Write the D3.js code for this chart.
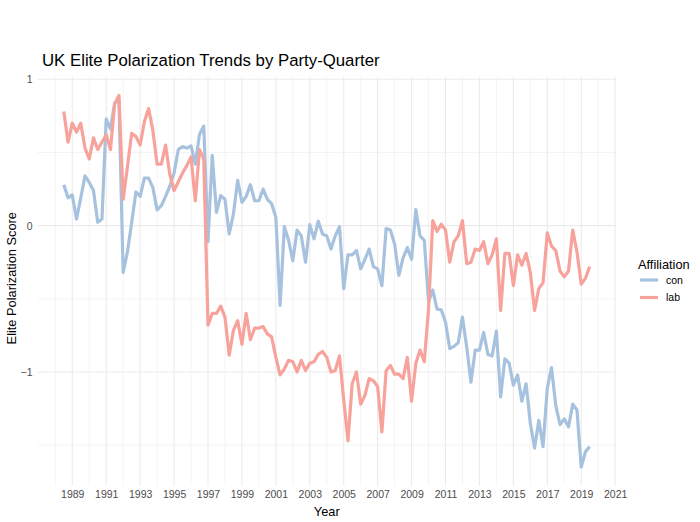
<!DOCTYPE html>
<html>
<head>
<meta charset="utf-8">
<script src="https://cdn.jsdelivr.net/npm/d3@7"></script>
<style>
  body { margin: 0; background: #fff; }
  svg { display: block; font-family: "Liberation Sans", Arial, Helvetica, sans-serif; }
</style>
</head>
<body>
<svg id="chart" width="700" height="522"></svg>
<script>
// quarterly scores, first quarter is 1988 Q3
const firstQuarter = 1988.5

const con = [
  0.28, 0.19,
  0.21, 0.045, 0.19, 0.34,
  0.295, 0.24, 0.023, 0.045,
  0.73, 0.66, 0.84, 0.86,
  -0.32, -0.18, 0.02, 0.23,
  0.20, 0.325, 0.325, 0.26,
  0.107, 0.136, 0.20, 0.27,
  0.36, 0.52, 0.54, 0.53,
  0.545, 0.42, 0.625, 0.68,
  -0.11, 0.48, 0.09, 0.205,
  0.18, -0.057, 0.08, 0.31,
  0.16, 0.20, 0.28, 0.17,
  0.17, 0.25, 0.18, 0.15,
  0.057, -0.545, -0.007, -0.10,
  -0.24, -0.03, -0.07, -0.25,
  0.007, -0.09, 0.03, -0.057,
  -0.07, -0.16, -0.07, -0.007,
  -0.43, -0.20, -0.20, -0.17,
  -0.295, -0.23, -0.16, -0.28,
  -0.295, -0.41, -0.02, -0.03,
  -0.125, -0.34, -0.22, -0.15,
  -0.23, 0.11, -0.07, -0.10,
  -0.52, -0.44, -0.57, -0.575,
  -0.66, -0.84, -0.825, -0.80,
  -0.625, -0.83, -1.07, -0.85,
  -0.85, -0.73, -0.88, -0.89,
  -0.72, -1.17, -0.91, -0.94,
  -1.09, -1.02, -1.20, -1.08,
  -1.35, -1.52, -1.33, -1.51,
  -1.11, -0.97, -1.23, -1.36,
  -1.32, -1.375, -1.22, -1.26,
  -1.65, -1.545, -1.51
]

const lab = [
  0.78, 0.57,
  0.70, 0.64, 0.70, 0.53,
  0.455, 0.60, 0.52, 0.57,
  0.62, 0.52, 0.83, 0.89,
  0.18, 0.40, 0.63, 0.61,
  0.55, 0.71, 0.80, 0.65,
  0.42, 0.42, 0.55, 0.35,
  0.24, 0.30, 0.36, 0.41,
  0.47, 0.17, 0.52, 0.455,
  -0.68, -0.60, -0.60, -0.55,
  -0.625, -0.885, -0.715, -0.65,
  -0.81, -0.60, -0.78, -0.70,
  -0.70, -0.69, -0.74, -0.76,
  -0.90, -1.02, -0.98, -0.92,
  -0.93, -1.00, -0.92, -0.99,
  -0.94, -0.93, -0.88, -0.86,
  -0.90, -1.00, -0.99, -0.89,
  -1.19, -1.47, -1.08, -1.00,
  -1.22, -1.16, -1.045, -1.06,
  -1.10, -1.41, -0.99, -0.955,
  -1.015, -1.015, -1.045, -0.90,
  -1.20, -0.94, -0.85, -0.93,
  -0.57, 0.034, -0.04, 0.01,
  -0.03, -0.25, -0.11, -0.07,
  0.034, -0.26, -0.25, -0.16,
  -0.17, -0.11, -0.26, -0.20,
  -0.09, -0.58, -0.19, -0.19,
  -0.41, -0.20, -0.27, -0.19,
  -0.32, -0.58, -0.43, -0.39,
  -0.05, -0.14, -0.17, -0.31,
  -0.35, -0.31, -0.03, -0.18,
  -0.40, -0.36, -0.28
]

const parties = ["con", "lab"]
const partyColors = ["#a7c2de", "#f8a29c"]

const xMajor = [1989, 1991, 1993, 1995, 1997, 1999, 2001, 2003, 2005, 2007, 2009, 2011, 2013, 2015, 2017, 2019, 2021]
const xMinor = [1988, 1990, 1992, 1994, 1996, 1998, 2000, 2002, 2004, 2006, 2008, 2010, 2012, 2014, 2016, 2018, 2020]
const yMajor = [-1, 0, 1]
const yMinor = [-1.5, -0.5, 0.5]

// panel box
const panel = { left: 37.5, right: 616, top: 76.8, bottom: 485.7 }

const series = parties.map((p, k) => ({
  party: p,
  color: partyColors[k],
  values: (k == 0 ? con : lab).map((v, i) => ({ t: firstQuarter + i / 4, v: v }))
}))

// ggplot-like 5% expansion on both scales
let allT = series[0].values.map(d => d.t)
let allV = con.concat(lab)
let tExt = d3.extent(allT), vExt = d3.extent(allV)
let tPad = (tExt[1] - tExt[0]) * 0.05, vPad = (vExt[1] - vExt[0]) * 0.05

const x = d3.scaleLinear()
  .domain([tExt[0] - tPad, tExt[1] + tPad])
  .range([panel.left, panel.right])
const y = d3.scaleLinear()
  .domain([vExt[0] - vPad, vExt[1] + vPad])
  .range([panel.bottom, panel.top])

const svg = d3.select("#chart")

// grid
let grid = svg.append("g")
grid.selectAll(".vminor").data(xMinor).join("line")
  .attr("x1", d => x(d)).attr("x2", d => x(d))
  .attr("y1", panel.top).attr("y2", panel.bottom)
  .attr("stroke", "#ededed").attr("stroke-width", 0.6)
grid.selectAll(".hminor").data(yMinor).join("line")
  .attr("y1", d => y(d)).attr("y2", d => y(d))
  .attr("x1", panel.left).attr("x2", panel.right)
  .attr("stroke", "#ededed").attr("stroke-width", 0.6)
grid.selectAll(".vmajor").data(xMajor).join("line")
  .attr("x1", d => x(d)).attr("x2", d => x(d))
  .attr("y1", panel.top).attr("y2", panel.bottom)
  .attr("stroke", "#ebebeb").attr("stroke-width", 1.1)
grid.selectAll(".hmajor").data(yMajor).join("line")
  .attr("y1", d => y(d)).attr("y2", d => y(d))
  .attr("x1", panel.left).attr("x2", panel.right)
  .attr("stroke", "#ebebeb").attr("stroke-width", 1.1)

// axes (text only, like theme_minimal)
let xaxis = d3.axisBottom(x).tickValues(xMajor).tickFormat(d3.format("d")).tickSize(0).tickPadding(4)
svg.append("g")
  .attr("transform", `translate(0,${panel.bottom + 1})`)
  .call(xaxis)
  .call(g => g.select(".domain").remove())
  .selectAll("text").attr("fill", "#4d4d4d").attr("font-size", 10.5)
    .attr("font-family", "Liberation Sans, Arial, sans-serif")

let yaxis = d3.axisLeft(y).tickValues(yMajor).tickFormat(d3.format("d")).tickSize(0).tickPadding(4)
svg.append("g")
  .attr("transform", `translate(${panel.left - 1},0)`)
  .call(yaxis)
  .call(g => g.select(".domain").remove())
  .selectAll("text").attr("fill", "#4d4d4d").attr("font-size", 10.5)
    .attr("font-family", "Liberation Sans, Arial, sans-serif")

// lines
let line = d3.line().x(d => x(d.t)).y(d => y(d.v))
svg.selectAll(".series").data(series).join("path")
  .attr("d", d => line(d.values))
  .attr("fill", "none")
  .attr("stroke", d => d.color)
  .attr("stroke-width", 3.2)
  .attr("stroke-linejoin", "round")

// titles
svg.append("text")
  .attr("x", 42).attr("y", 66)
  .attr("font-size", 16.8).attr("fill", "#000")
  .text("UK Elite Polarization Trends by Party-Quarter")
svg.append("text")
  .attr("x", (panel.left + panel.right) / 2).attr("y", 516)
  .attr("text-anchor", "middle").attr("font-size", 12.8).attr("fill", "#000")
  .text("Year")
svg.append("text")
  .attr("transform", `translate(16,${(panel.top + panel.bottom) / 2 - 3}) rotate(-90)`)
  .attr("text-anchor", "middle").attr("font-size", 12.8).attr("fill", "#000")
  .text("Elite Polarization Score")

// legend
let legend = svg.append("g").attr("transform", "translate(638,0)")
legend.append("text").attr("x", 0).attr("y", 269)
  .attr("font-size", 12.8).attr("fill", "#000").text("Affiliation")
let keys = legend.selectAll(".key").data(series).join("g")
  .attr("transform", (d, i) => `translate(0,${280 + i * 17.5})`)
keys.append("line")
  .attr("x1", 2).attr("x2", 20).attr("y1", 0).attr("y2", 0)
  .attr("stroke", d => d.color).attr("stroke-width", 3.2)
keys.append("text")
  .attr("x", 28).attr("y", 3.8)
  .attr("font-size", 10.5).attr("fill", "#000")
  .text(d => d.party)
</script>
</body>
</html>
